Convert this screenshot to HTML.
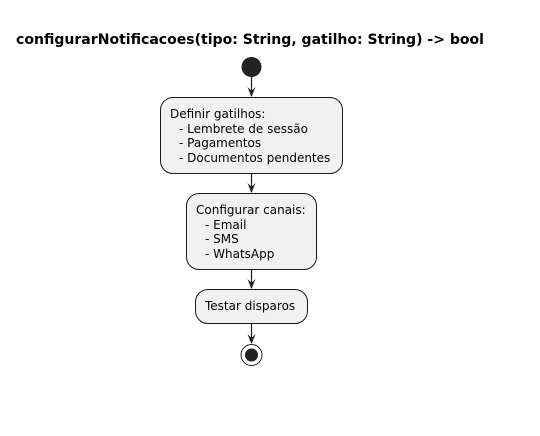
<!DOCTYPE html>
<html><head><meta charset="utf-8"><style>
html,body{margin:0;padding:0;background:#fff;}
svg{display:block;}
text{font-family:"DejaVu Sans","Liberation Sans",sans-serif;fill:#000;}
</style></head><body>
<svg width="540" height="436" viewBox="0 0 540 436" xmlns="http://www.w3.org/2000/svg">
<text x="16" y="44" font-size="14" font-weight="bold" textLength="468" lengthAdjust="spacingAndGlyphs">configurarNotificacoes(tipo: String, gatilho: String) -&gt; bool</text>
<circle cx="251.5" cy="67" r="10" fill="#222"/>
<g stroke="#181818" stroke-width="1" fill="#F1F1F1">
<rect x="160.5" y="97.5" width="182" height="76" rx="12.5"/>
<rect x="186.5" y="193.5" width="130" height="76" rx="12.5"/>
<rect x="195.5" y="289.5" width="112" height="34" rx="12.5"/>
</g>
<g stroke="#181818" stroke-width="1.2">
<line x1="251.5" y1="77" x2="251.5" y2="96"/>
<line x1="251.5" y1="174" x2="251.5" y2="192"/>
<line x1="251.5" y1="270" x2="251.5" y2="288"/>
<line x1="251.5" y1="324" x2="251.5" y2="343"/>
</g>
<g fill="#181818">
<polygon points="247.5,87 251.5,97 255.5,87 251.5,91"/>
<polygon points="247.5,183 251.5,193 255.5,183 251.5,187"/>
<polygon points="247.5,279 251.5,289 255.5,279 251.5,283"/>
<polygon points="247.5,334 251.5,344 255.5,334 251.5,338"/>
</g>
<circle cx="251.5" cy="355" r="10.5" fill="none" stroke="#222" stroke-width="1"/>
<circle cx="251.5" cy="355" r="6.5" fill="#222"/>
<g font-size="12">
<text x="170" y="118">Definir gatilhos:</text>
<text x="179" y="133">- Lembrete de sessão</text>
<text x="179" y="147">- Pagamentos</text>
<text x="179" y="162">- Documentos pendentes</text>
<text x="196" y="214">Configurar canais:</text>
<text x="205" y="229">- Email</text>
<text x="205" y="243">- SMS</text>
<text x="205" y="258">- WhatsApp</text>
<text x="205" y="310">Testar disparos</text>
</g>
</svg>
</body></html>
